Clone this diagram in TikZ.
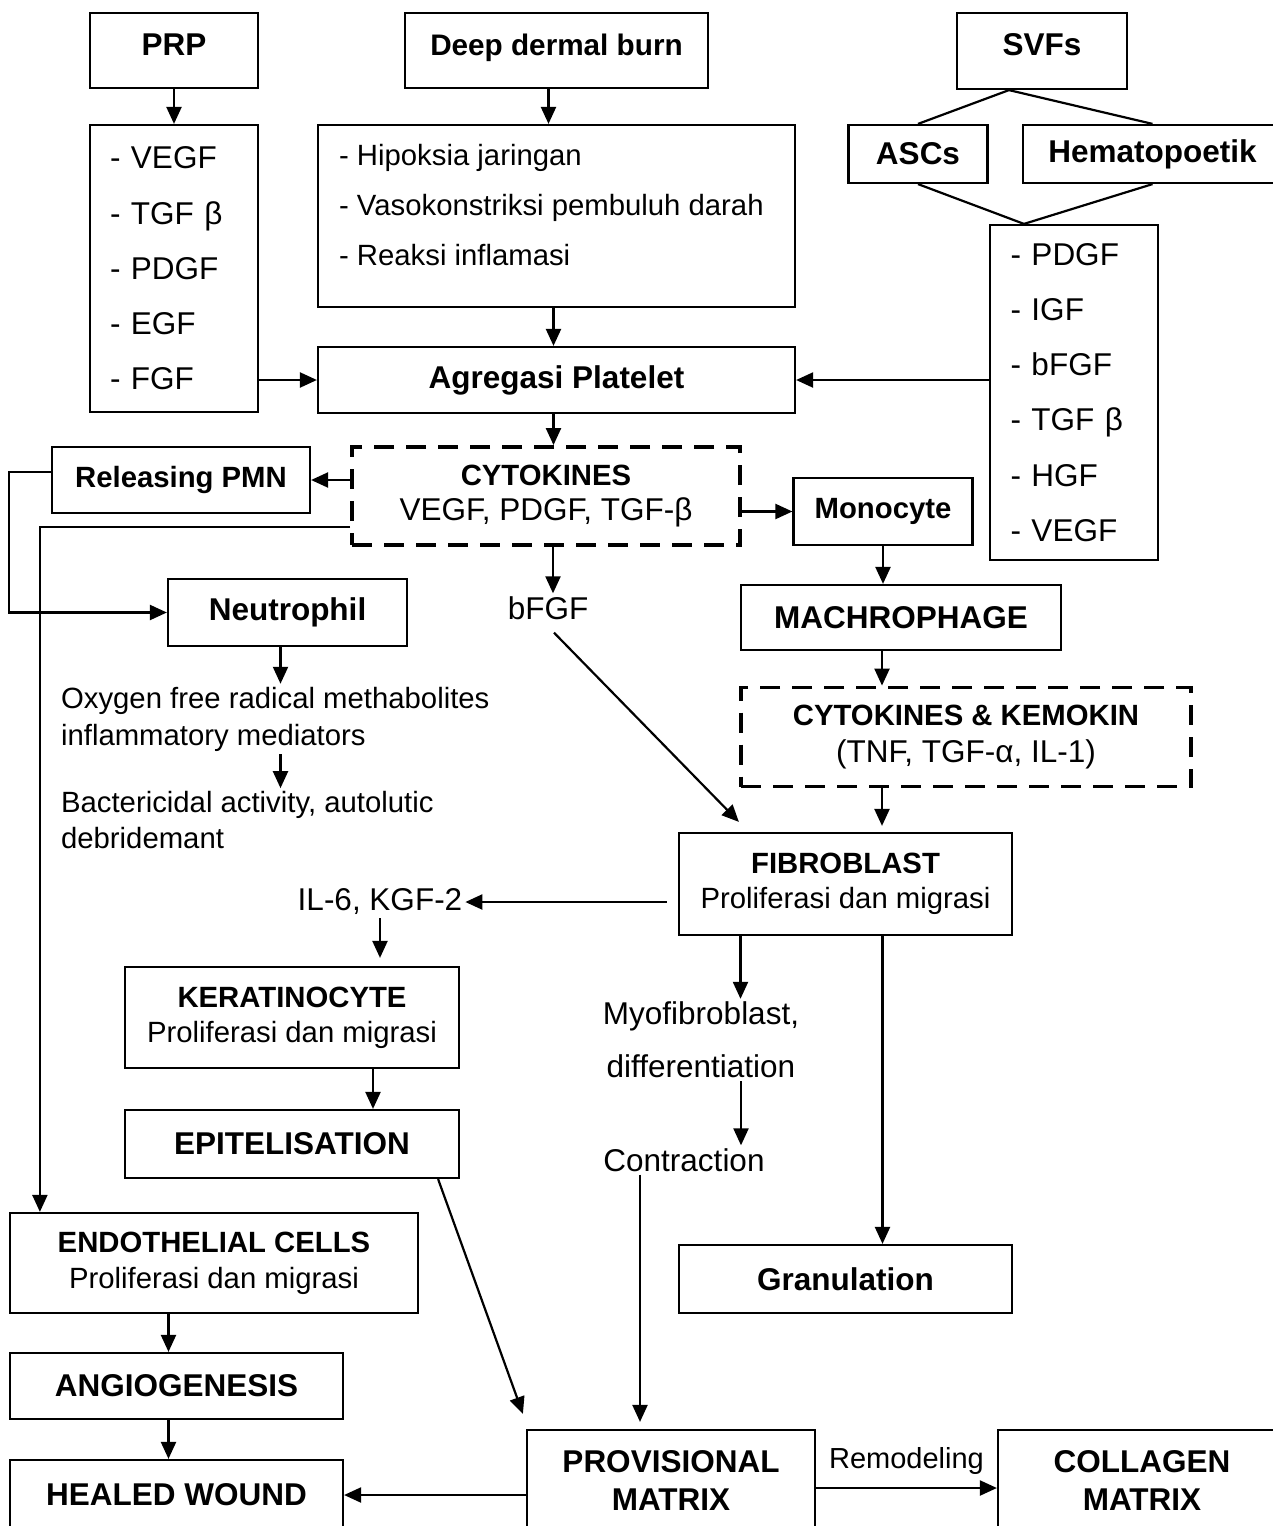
\documentclass[tikz,border=0pt]{standalone}
\usepackage{fontspec}
\setmainfont{Liberation Sans}
\usepackage{tikz}
\usetikzlibrary{arrows}
\usetikzlibrary{arrows.meta}
\usetikzlibrary{positioning}

\newcommand{\fntsm}{\fontsize{29.3}{35}\selectfont}
\newcommand{\fntbg}{\fontsize{31.5}{38}\selectfont}
\newcommand{\fnthd}{\fontsize{31.5}{38}\selectfont\bfseries}
\newcommand{\fnths}{\fontsize{29.3}{35}\selectfont\bfseries}

\begin{document}
\begin{tikzpicture}[x=1pt, y=-1pt, line width=2.2pt, >={Triangle[length=17pt, width=15pt]},
	title style/.style={draw, rectangle, align=center, inner sep=0pt, font=\fnthd},
	small style/.style={title style, font=\fnths},
	two style/.style={title style, font=\fntsm},
	dash style/.style={title style, font=\fntsm, line width=3.8pt, dash pattern=on 20pt off 12pt},
	list style/.style={title style, align=left, inner xsep=20pt, font=\fontsize{31.5}{55.2}\selectfont},
	note style/.style={inner sep=2pt, align=center, font=\fntbg}]
	\useasboundingbox (0,0) rectangle (1273,1526);
	\clip (0,0) rectangle (1273,1526);

	\node[title style, minimum width=168pt, minimum height=75pt, text depth=12pt] (prp) at (174,50.5) {PRP};
	\node[title style, minimum width=303pt, minimum height=75pt, text depth=12pt, font=\fontsize{29.7}{35}\selectfont\bfseries] (burn) at (556.5,50.5) {Deep dermal burn};
	\node[title style, minimum width=170pt, minimum height=76pt, text depth=12pt] (svfs) at (1042,51) {SVFs};
	\node[title style, minimum width=139pt, minimum height=58pt] (asc) at (918,154) {ASCs};
	\node[title style, minimum width=259pt, minimum height=58pt] (hema) at (1152.5,154) {Hematopoetik};

	\node[list style, text width=128pt, minimum width=168pt, minimum height=287pt] (prplist) at (174,268.5) {- VEGF\\- TGF β\\- PDGF\\- EGF\\- FGF};
	\node[list style, text width=127pt, minimum width=168pt, minimum height=335pt] (svflist) at (1074,392.5) {- PDGF\\- IGF\\- bFGF\\- TGF β\\- HGF\\- VEGF};
	\node[title style, minimum width=477pt, minimum height=182pt] (burnlist) at (556.5,216) {};
	\node[anchor=base west, align=left, inner sep=0pt, font=\fontsize{29.3}{50}\selectfont] (burntxt) at (338,265.5) {- Hipoksia jaringan\\- Vasokonstriksi pembuluh darah\\- Reaksi inflamasi};

	\node[title style, minimum width=477pt, minimum height=66pt] (agg) at (556.5,380) {Agregasi Platelet};
	\node[small style, minimum width=258pt, minimum height=66pt] (relpmn) at (181,480) {Releasing PMN};
	\node[dash style, minimum width=388pt, minimum height=98pt] (cyto) at (546,496) {\textbf{CYTOKINES}\\{\fntbg VEGF, PDGF, TGF-β}};
	\node[small style, minimum width=179pt, minimum height=67pt] (mono) at (883,511.5) {Monocyte};
	\node[title style, minimum width=239pt, minimum height=67pt] (neut) at (287.5,612.5) {Neutrophil};
	\node[note style] (bfgf) at (548,608) {bFGF};
	\node[title style, minimum width=320pt, minimum height=65pt] (macro) at (901,617.5) {MACHROPHAGE};
	\node[dash style, minimum width=450pt, minimum height=99pt, font=\fontsize{29.3}{37}\selectfont] (ck) at (966,737) {\textbf{CYTOKINES \& KEMOKIN}\\{\fntbg (TNF, TGF-α, IL-1)}};
	\node[note style, anchor=west, align=left, font=\fontsize{29.3}{37}\selectfont] (oxy) at (58,719) {Oxygen free radical methabolites\\inflammatory mediators};
	\node[note style, anchor=west, align=left, font=\fontsize{29.3}{36}\selectfont] (bact) at (58,820) {Bactericidal activity, autolutic\\debridemant};
	\node[two style, minimum width=333pt, minimum height=102pt] (fib) at (845.5,884) {\textbf{FIBROBLAST}\\Proliferasi dan migrasi};
	\node[note style] (il6) at (380,902) {IL-6, KGF-2};
	\node[two style, minimum width=334pt, minimum height=101pt] (kera) at (292,1017.5) {\textbf{KERATINOCYTE}\\Proliferasi dan migrasi};
	\node[title style, minimum width=334pt, minimum height=68pt] (epit) at (292,1144) {EPITELISATION};
	\node[note style, font=\fontsize{31.5}{53}\selectfont] (myo) at (701,1040) {Myofibroblast,\\differentiation};
	\node[note style] (contr) at (684,1160) {Contraction};
	\node[title style, minimum width=333pt, minimum height=68pt] (gran) at (845.5,1279) {Granulation};
	\node[two style, minimum width=408pt, minimum height=100pt, font=\fontsize{29.3}{36}\selectfont] (endo) at (214,1263) {\textbf{ENDOTHELIAL CELLS}\\Proliferasi dan migrasi};
	\node[title style, minimum width=333pt, minimum height=66pt] (angio) at (176.5,1386) {ANGIOGENESIS};
	\node[title style, minimum width=333pt, minimum height=70pt] (healed) at (176.5,1495) {HEALED WOUND};
	\node[title style, minimum width=288pt, minimum height=100pt] (prov) at (671,1480) {PROVISIONAL\\MATRIX};
	\node[title style, minimum width=288pt, minimum height=100pt] (coll) at (1142,1480) {COLLAGEN\\MATRIX};

	\draw[->] (prp) -- (prplist);
	\draw[->] ([xshift=-8pt]burn.south) -- ([xshift=-8pt]burnlist.north);
	\draw[->] ([xshift=-3pt]burnlist.south) -- ([xshift=-3pt]agg.north);
	\draw[->] (prplist.east |- agg) -- (agg.west);
	\draw[->] (svflist.west |- agg) -- (agg.east);
	\draw ([xshift=-33pt]svfs.south) -- (asc.north);
	\draw ([xshift=-33pt]svfs.south) -- (hema.north);
	\draw (asc.south) -- ([xshift=-50pt]svflist.north);
	\draw (hema.south) -- ([xshift=-50pt]svflist.north);
	\draw[->] ([xshift=-3pt]agg.south) -- ([xshift=-3pt]agg.south |- cyto.north);
	\draw[->] (cyto.west |- relpmn) -- (relpmn.east);
	\draw[->] ([yshift=8pt]relpmn.west) -- ++(-42,0) |- (neut.west);
	\draw[->] ([yshift=-31pt]cyto.west) -| ([xshift=31pt]endo.north west);
	\draw[->] (cyto.east |- mono) -- (mono.west);
	\draw[->] ([xshift=7pt]cyto.south) -- ([xshift=7pt]cyto.south |- bfgf.north);
	\draw[->] ([xshift=6pt,yshift=-10pt]bfgf.south) -- ([xshift=61pt,yshift=10pt]fib.north west);
	\draw[->] (mono.south) -- (mono.south |- macro.north);
	\draw[->] ([xshift=-19pt]macro.south) -- ([xshift=-19pt]macro.south |- ck.north);
	\draw[->, shorten >=6pt] ([xshift=-84pt]ck.south) -- ([xshift=-84pt]ck.south |- fib.north);
	\draw[->] ([xshift=-7pt]neut.south) -- ([xshift=-7pt]neut.south |- oxy.north);
	\draw[->] ([xshift=-7pt]neut.south |- oxy.south) -- ([xshift=-7pt]neut.south |- bact.north);
	\draw[->, shorten <=11pt] (fib.west |- il6) -- (il6.east);
	\draw[->, shorten >=8pt] (il6.south) -- (il6.south |- kera.north);
	\draw[->] ([xshift=81pt]kera.south) -- ([xshift=81pt]epit.north);
	\draw[->] ([xshift=-22pt]epit.south east) -- ([xshift=-3pt,yshift=15pt]prov.north west);
	\draw[->] ([xshift=-105pt]fib.south) -- ([xshift=-105pt]fib.south |- myo.north);
	\draw[->] ([xshift=40pt]myo.south) -- ([xshift=40pt]myo.south |- contr.north);
	\draw[->, shorten >=7pt] ([xshift=-44pt]contr.south) -- ([xshift=-44pt]contr.south |- prov.north);
	\draw[->] ([xshift=37pt]fib.south) -- ([xshift=37pt]fib.south |- gran.north);
	\draw[->] ([xshift=-8pt]angio.north |- endo.south) -- ([xshift=-8pt]angio.north);
	\draw[->] ([xshift=-8pt]angio.south) -- ([xshift=-8pt]healed.north);
	\draw[->] (prov.west |- healed) -- (healed.east);
	\draw[->] ([yshift=-8pt]prov.east) -- node[above=9pt, font=\fontsize{29}{32}\selectfont] (remod) {Remodeling} ([yshift=-8pt]coll.west);
\end{tikzpicture}
\end{document}
